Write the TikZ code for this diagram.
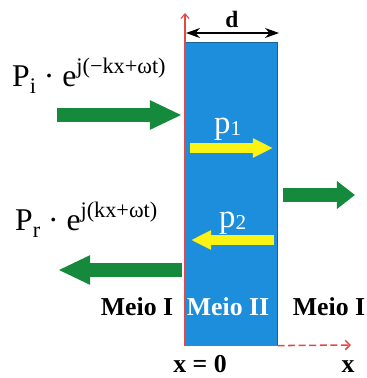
\documentclass[tikz,border=0pt]{standalone}
\usepackage{fontspec}
\setmainfont{Liberation Serif}
\usetikzlibrary{arrows.meta}
\definecolor{slabblue}{RGB}{28,142,220}
\definecolor{wavegreen}{RGB}{22,138,60}
\definecolor{pyellow}{RGB}{250,243,20}
\definecolor{axisred}{RGB}{226,72,72}
\newcommand{\supr}[1]{\raisebox{11pt}{\fontsize{19}{19}\selectfont #1}}
\newcommand{\subr}[1]{\raisebox{-6pt}{\fontsize{19}{19}\selectfont #1}}
\newcommand{\psub}[1]{\raisebox{-2pt}{\fontsize{18}{18}\selectfont #1}}
\tikzstyle{wave} = [wavegreen, line width=0.42cm, -{Triangle[length=0.96cm,width=0.81cm]}]
\tikzstyle{pwave} = [pyellow, line width=0.3cm, -{Triangle[length=0.6cm,width=0.54cm]}]
\tikzstyle{meio} = [font=\fontsize{22}{22}\selectfont\bfseries, anchor=base, inner sep=0pt]
\tikzstyle{eq} = [font=\fontsize{27}{27}\selectfont, anchor=base west, inner sep=0pt]
\tikzstyle{plabel} = [font=\fontsize{28}{28}\selectfont, text=white, anchor=base west, inner sep=0pt]
\tikzstyle{xaxis} = [axisred, line width=1pt]

\begin{document}
\begin{tikzpicture}[x=0.03cm, y=-0.03cm]
    \useasboundingbox (0,0) rectangle (367,378);
    % camada (meio II)
    \node[fill=slabblue, draw=slabblue!70!black, line width=0.5pt, inner sep=0pt,
        minimum width=2.76cm, minimum height=9.09cm, anchor=north west] (slab) at (185,42) {};
    % eixos
    \coordinate (ytop) at (185,13);
    \coordinate (xend) at (351,345);
    \draw[xaxis, -{Straight Barb[length=4pt,width=7pt]}] (slab.south west) -- (ytop);
    \draw[xaxis] (slab.south west) -- (slab.south east);
    \draw[xaxis, line width=1.3pt, dash pattern=on 6pt off 3pt, -{Straight Barb[length=4pt,width=8pt]}]
        (slab.south east) -- (xend);
    % espessura d
    \coordinate (dl) at (186,33);
    \coordinate (dr) at (279,33);
    \draw[line width=1pt, {Stealth[length=0.42cm,width=0.3cm]}-{Stealth[length=0.42cm,width=0.3cm]}]
        (dl) -- (dr);
    \node[meio, font=\fontsize{20}{20}\selectfont\bfseries] (d) at (232,27) {d};
    % ondas no meio I
    \node[eq] (pi) at (12,86) {P\subr{i} · e\supr{j(−kx+ωt)}};
    \node[eq] (pr) at (15,230) {P\subr{r} · e\supr{j(kx+ωt)}};
    \coordinate (inc-s) at (57,115);
    \coordinate (inc-e) at (182,115);
    \draw[wave] (inc-s) -- (inc-e);
    \coordinate (ref-s) at (182,270);
    \coordinate (ref-e) at (58,270);
    \draw[wave] (ref-s) -- (ref-e);
    \coordinate (tr-s) at (283,195);
    \coordinate (tr-e) at (355,195);
    \draw[wave, -{Triangle[length=0.54cm,width=0.8cm]}] (tr-s) -- (tr-e);
    % ondas no meio II
    \node[plabel] (p1) at (214,133) {p\psub{1}};
    \node[plabel] (p2) at (219,227) {p\psub{2}};
    \coordinate (p1-s) at (190,148);
    \coordinate (p1-e) at (273,148);
    \draw[pwave] (p1-s) -- (p1-e);
    \coordinate (p2-s) at (274,240);
    \coordinate (p2-e) at (191,240);
    \draw[pwave] (p2-s) -- (p2-e);
    % meios
    \node[meio] (m1) at (137,315) {Meio I};
    \node[meio, text=white] (m2) at (228,315) {Meio II};
    \node[meio] (m3) at (329,315) {Meio I};
    \node[meio] (x0) at (200,372) {x = 0};
    \node[meio] (xl) at (348,372) {x};
\end{tikzpicture}
\end{document}
